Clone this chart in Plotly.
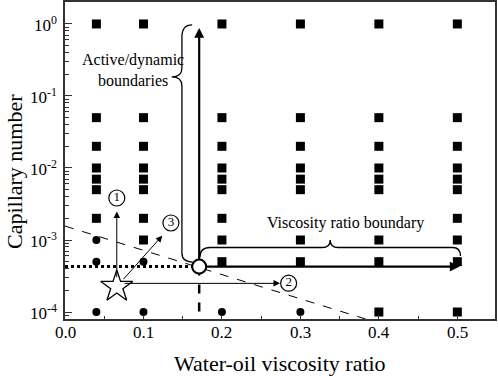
import math
import plotly.graph_objects as go

# ---------------- data ----------------
# Filled squares (one list per water-oil viscosity ratio column)
sq_004 = [1, 0.05, 0.02, 0.01, 0.007, 0.005, 0.002]
sq_01 = [1, 0.05, 0.02, 0.01, 0.007, 0.005, 0.002, 0.001]
sq_02 = [1, 0.05, 0.02, 0.01, 0.007, 0.005, 0.002, 0.001, 0.0005]
sq_03 = [1, 0.05, 0.02, 0.01, 0.007, 0.005, 0.001, 0.0005]
sq_04 = [1, 0.05, 0.02, 0.01, 0.007, 0.005, 0.001, 0.0005, 0.0001]
sq_05 = [1, 0.05, 0.02, 0.01, 0.007, 0.005, 0.002, 0.001, 0.0005, 0.0001]
square_cols = [0.04, 0.1, 0.2, 0.3, 0.4, 0.5]
square_vals = [sq_004, sq_01, sq_02, sq_03, sq_04, sq_05]

# Filled circles
ci_004 = [0.001, 0.0005, 0.0001]
ci_01 = [0.0005, 0.0001]
ci_02 = [0.0001]
ci_03 = [0.0001]
circle_cols = [0.04, 0.1, 0.2, 0.3]
circle_vals = [ci_004, ci_01, ci_02, ci_03]

# special points
star_x, star_y = 0.066, 2.25e-4
trans_x, trans_y = 0.171, 4.27e-4
# dashed separating line (two ends)
sep_x = [0.0, 0.383]
sep_y = [0.00156, 8.0e-5]

x_ticks = [0.0, 0.1, 0.2, 0.3, 0.4, 0.5]
x_tick_labels = ["0.0", "0.1", "0.2", "0.3", "0.4", "0.5"]
y_ticks = [1e-4, 1e-3, 1e-2, 1e-1, 1]
y_tick_labels = ["10<sup>-4</sup>", "10<sup>-3</sup>", "10<sup>-2</sup>",
                 "10<sup>-1</sup>", "10<sup>0</sup>"]

FONT = "Liberation Serif"

sx, sy = [], []
for c, vals in zip(square_cols, square_vals):
    for v in vals:
        sx.append(c)
        sy.append(v)
cx, cy = [], []
for c, vals in zip(circle_cols, circle_vals):
    for v in vals:
        cx.append(c)
        cy.append(v)

fig = go.Figure()

# thin dashed line
fig.add_trace(go.Scatter(x=sep_x, y=sep_y, mode="lines",
                         line=dict(color="black", width=1, dash="dash"),
                         hoverinfo="skip", showlegend=False))
# thick dotted horizontal to transition
fig.add_trace(go.Scatter(x=[0, trans_x], y=[trans_y, trans_y], mode="lines",
                         line=dict(color="black", width=3, dash="dot"),
                         hoverinfo="skip", showlegend=False))
# thick dashed vertical below transition
fig.add_trace(go.Scatter(x=[trans_x, trans_x], y=[trans_y, 5e-5], mode="lines",
                         line=dict(color="black", width=2.5, dash="dash"),
                         hoverinfo="skip", showlegend=False))

fig.add_trace(go.Scatter(x=sx, y=sy, mode="markers",
                         marker=dict(symbol="square", size=9, color="black"),
                         showlegend=False))
fig.add_trace(go.Scatter(x=cx, y=cy, mode="markers",
                         marker=dict(symbol="circle", size=8, color="black"),
                         showlegend=False))

L = math.log10


def arrow(x0, y0, x1, y1, width, head=2, size=1.0, st=0):
    fig.add_annotation(x=x1, y=L(y1), ax=x0, ay=L(y0), xref="x", yref="y",
                       axref="x", ayref="y", showarrow=True, text="",
                       arrowhead=head, arrowsize=size, arrowwidth=width,
                       arrowcolor="black", startstandoff=st, standoff=0)


# thin arrows from star
arrow(star_x, star_y, star_x, 0.00248, 1, head=2, size=1.3, st=8)
arrow(star_x, star_y, 0.124, 0.00115, 1, head=2, size=1.3, st=8)
arrow(0.074, 2.5e-4, 0.274, 2.5e-4, 1, head=2, size=1.3)
# thick arrows from transition
arrow(trans_x, trans_y, trans_x, 0.88, 2.2, head=2, size=0.9, st=6)
arrow(trans_x, trans_y, 0.503, trans_y, 2.2, head=2, size=0.9, st=6)

# star and transition circle
fig.add_trace(go.Scatter(x=[star_x], y=[star_y], mode="markers",
                         marker=dict(symbol="star", size=24, color="white",
                                     line=dict(color="black", width=1.3)),
                         showlegend=False))
fig.add_trace(go.Scatter(x=[trans_x], y=[trans_y], mode="markers",
                         marker=dict(symbol="circle", size=14, color="white",
                                     line=dict(color="black", width=2)),
                         showlegend=False))

# circled number labels
lab_x = [0.066, 0.285, 0.135]
lab_y = [10 ** -2.417, 10 ** -3.60, 10 ** -2.764]
lab_t = ["1", "2", "3"]
fig.add_trace(go.Scatter(x=lab_x, y=lab_y, mode="markers+text", text=lab_t,
                         textposition="middle center",
                         textfont=dict(family=FONT, size=13, color="black"),
                         marker=dict(symbol="circle", size=16, color="white",
                                     line=dict(color="black", width=1.2)),
                         showlegend=False))


def bpath(pts):
    out = []
    for cmd, coords in pts:
        seg = cmd
        for (px, pl) in coords:
            seg += " %.6f,%.10f" % (px, 10 ** pl)
        out.append(seg)
    return " ".join(out)


vbrace = bpath([
    ("M", [(0.162, -0.014)]),
    ("Q", [(0.149, -0.014), (0.149, -0.181)]),
    ("L", [(0.149, -0.611)]),
    ("Q", [(0.149, -0.736), (0.136, -0.736)]),
    ("Q", [(0.149, -0.736), (0.149, -0.861)]),
    ("L", [(0.149, -3.181)]),
    ("Q", [(0.149, -3.306), (0.163, -3.306)]),
])
hbrace = bpath([
    ("M", [(0.172, -3.236)]),
    ("Q", [(0.172, -3.104), (0.185, -3.104)]),
    ("L", [(0.328, -3.104)]),
    ("Q", [(0.338, -3.104), (0.338, -3.0)]),
    ("Q", [(0.338, -3.104), (0.348, -3.104)]),
    ("L", [(0.494, -3.104)]),
    ("Q", [(0.504, -3.104), (0.504, -3.222)]),
])
for p in (vbrace, hbrace):
    fig.add_shape(type="path", path=p, xref="x", yref="y",
                  line=dict(color="black", width=1.3))

fig.add_annotation(x=0.087, y=-0.5, xref="x", yref="y", showarrow=False,
                   text="Active/dynamic", font=dict(family=FONT, size=16, color="black"))
fig.add_annotation(x=0.087, y=-0.78, xref="x", yref="y", showarrow=False,
                   text="boundaries", font=dict(family=FONT, size=16, color="black"))
fig.add_annotation(x=0.357, y=-2.764, xref="x", yref="y", showarrow=False,
                   text="Viscosity ratio boundary",
                   font=dict(family=FONT, size=16, color="black"))

# tick labels (placed as text next to the frame)
for v, t in zip(y_ticks, y_tick_labels):
    fig.add_annotation(x=-0.014, y=L(v), xref="paper", yref="y", showarrow=False,
                       xanchor="right", yanchor="middle", text=t,
                       font=dict(family=FONT, size=17, color="black"))
for v, t in zip(x_ticks, x_tick_labels):
    fig.add_annotation(x=v, y=-0.044, xref="x", yref="paper", showarrow=False,
                       xanchor="center", yanchor="middle", text=t,
                       font=dict(family=FONT, size=17, color="black"))

# axis titles
fig.add_annotation(x=0.5, y=-0.139, xref="paper", yref="paper", showarrow=False,
                   xanchor="center", yanchor="middle",
                   text="Water-oil viscosity ratio",
                   font=dict(family=FONT, size=22, color="black"))
fig.add_annotation(x=-0.1186, y=0.4637, xref="paper", yref="paper", showarrow=False,
                   xanchor="center", yanchor="middle", textangle=-90,
                   text="Capillary number",
                   font=dict(family=FONT, size=22, color="black"))

fig.update_layout(
    width=498, height=376,
    margin=dict(l=65, r=3, t=2, b=57, autoexpand=False),
    plot_bgcolor="white", paper_bgcolor="white",
    font=dict(family=FONT, color="black"),
    xaxis=dict(range=[0, 0.548], showgrid=False, zeroline=False, automargin=False,
               showline=True, linecolor="#333", linewidth=1.5, mirror=True,
               ticks="inside", ticklen=4, tickcolor="#333",
               tickvals=x_ticks, showticklabels=False,
               minor=dict(ticks="inside", ticklen=3, tickcolor="#333",
                          tickvals=[0.05, 0.15, 0.25, 0.35, 0.45])),
    yaxis=dict(type="log", range=[-4.097, 0.305], showgrid=False, zeroline=False,
               automargin=False,
               showline=True, linecolor="#333", linewidth=1.5, mirror=True,
               ticks="inside", ticklen=7, tickcolor="#333",
               tickvals=y_ticks, showticklabels=False,
               minor=dict(ticks="inside", ticklen=4, tickcolor="#333",
                          tickvals=[k * 10 ** e for e in range(-5, 1) for k in range(2, 10)])),
)

fig.write_html("out.html", config={"displayModeBar": False},
               post_script="document.body.style.margin='0';document.body.style.overflow='hidden';")
